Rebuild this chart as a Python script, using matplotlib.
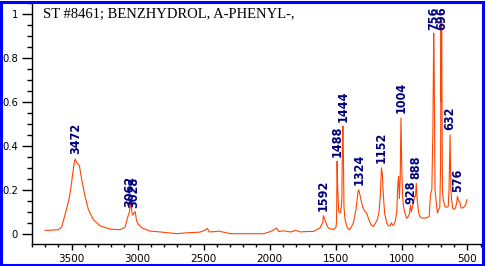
import numpy as np
import matplotlib
matplotlib.use("Agg")
import matplotlib.pyplot as plt
from matplotlib.patches import Rectangle
from matplotlib.ticker import MultipleLocator

title = "ST #8461; BENZHYDROL, A-PHENYL-,"

# spectrum (wavenumber, absorbance)
wavenumber = [3700, 3600, 3575, 3553, 3535, 3520, 3505, 3490, 3478, 3472, 3462,
              3441, 3423, 3398, 3373, 3335, 3285, 3209, 3133, 3095, 3075, 3062,
              3050, 3042, 3034, 3028, 3018, 3008, 2997, 2969, 2906, 2830, 2704,
              2628, 2527, 2489, 2472, 2457, 2401, 2389, 2296, 2043, 1993, 1962,
              1947, 1930, 1892, 1841, 1803, 1765, 1714, 1668, 1618, 1597, 1592,
              1572, 1555, 1517, 1496, 1492, 1488, 1484, 1476, 1462, 1452, 1448,
              1444, 1440, 1436, 1428, 1412, 1398, 1385, 1365, 1345, 1330, 1324,
              1316, 1302, 1290, 1275, 1264, 1245, 1230, 1214, 1200, 1183, 1170,
              1160, 1152, 1145, 1138, 1128, 1112, 1100, 1085, 1076, 1068, 1058,
              1046, 1036, 1028, 1022, 1016, 1010, 1004, 998, 992, 985, 974, 961,
              948, 940, 932, 925, 918, 908, 900, 894, 888, 881, 870, 858, 843,
              818, 800, 790, 780, 770, 762, 756, 752, 746, 738, 728, 718, 710,
              704, 700, 698, 696, 690, 684, 671, 659, 646, 640, 632, 626, 620,
              612, 600, 590, 582, 576, 568, 560, 549, 535, 523, 512, 505]
absorbance = [0.015, 0.018, 0.03, 0.08, 0.12, 0.155, 0.21, 0.28, 0.33, 0.34, 0.325,
              0.31, 0.245, 0.17, 0.11, 0.064, 0.036, 0.021, 0.018, 0.03, 0.075, 0.10,
              0.147, 0.09, 0.085, 0.095, 0.10, 0.06, 0.045, 0.027, 0.012, 0.008, 0.0,
              0.004, 0.007, 0.016, 0.024, 0.008, 0.01, 0.012, 0.0, 0.0, 0.01, 0.02,
              0.026, 0.01, 0.013, 0.008, 0.015, 0.008, 0.01, 0.01, 0.026, 0.05, 0.082,
              0.049, 0.026, 0.018, 0.03, 0.06, 0.33, 0.22, 0.10, 0.094, 0.15, 0.40,
              0.49, 0.35, 0.12, 0.064, 0.03, 0.018, 0.025, 0.049, 0.11, 0.19, 0.20,
              0.18, 0.14, 0.115, 0.10, 0.094, 0.06, 0.04, 0.033, 0.045, 0.064, 0.10,
              0.18, 0.30, 0.27, 0.18, 0.094, 0.05, 0.036, 0.036, 0.05, 0.038, 0.04,
              0.06, 0.10, 0.22, 0.26, 0.16, 0.25, 0.527, 0.30, 0.17, 0.124, 0.094, 0.07,
              0.079, 0.09, 0.13, 0.10, 0.12, 0.15, 0.17, 0.17, 0.23, 0.155, 0.094, 0.075, 0.071,
              0.071, 0.075, 0.08, 0.18, 0.2, 0.48, 0.913, 0.72, 0.2, 0.155, 0.094, 0.11, 0.12,
              0.3, 0.97, 0.6, 0.98, 0.2, 0.155, 0.124, 0.12, 0.124, 0.2, 0.45, 0.2, 0.155,
              0.117, 0.11, 0.12, 0.14, 0.17, 0.15, 0.147, 0.117, 0.118, 0.124, 0.135, 0.155]

peaks = [3472, 3062, 3028, 1592, 1488, 1444, 1324, 1152, 1004, 928, 888, 756, 696, 632, 576]

fig = plt.figure(figsize=(4.86, 2.66), dpi=100)
ax = fig.add_axes([32 / 486, 22 / 266, 450 / 486, 241 / 266])

ax.plot(wavenumber, absorbance, color="#ff4500", lw=0.8, zorder=2)

wn_sorted = np.array(wavenumber[::-1])
ab_sorted = np.array(absorbance[::-1])
for p in peaks:
    h = min(np.interp(p, wn_sorted, ab_sorted), 0.905)
    ax.annotate(str(p), (p, h), xytext=(0, 3.3), textcoords="offset points",
                rotation=90, ha="center", va="bottom", color="#000080",
                fontsize=9, fontweight="bold", fontstretch="condensed",
                family="DejaVu Sans", zorder=3)

ax.text(3715, 1.0, title, family=["Liberation Serif", "DejaVu Serif"],
        fontsize=10.5, color="black", va="center", ha="left")

ax.set_xlim(3800, 390)
ax.set_ylim(-0.047, 1.051)
ax.xaxis.set_major_locator(MultipleLocator(500))
ax.xaxis.set_minor_locator(MultipleLocator(100))
ax.yaxis.set_major_locator(MultipleLocator(0.2))
ax.yaxis.set_minor_locator(MultipleLocator(0.05))
ax.set_yticks([0, 0.2, 0.4, 0.6, 0.8, 1.0], ["0", "0.2", "0.4", "0.6", "0.8", "1"])
ax.set_xticks([3500, 3000, 2500, 2000, 1500, 1000, 500])

for s in ["top", "right"]:
    ax.spines[s].set_visible(False)
for s in ["left", "bottom"]:
    ax.spines[s].set_linewidth(1.0)

ax.tick_params(axis="y", which="major", length=7, width=1, pad=3, labelsize=7.2)
ax.tick_params(axis="y", which="minor", length=3.5, width=1)
ax.tick_params(axis="x", which="major", length=4.5, width=1, pad=3, labelsize=7.5)
ax.tick_params(axis="x", which="minor", length=2.5, width=1)

fig.patches.append(Rectangle((1 / 486, 1.5 / 266), 481.5 / 486, 263 / 266,
                             transform=fig.transFigure, fill=False,
                             edgecolor="#0000ff", lw=2.2))

fig.savefig("out.png", dpi=100)
